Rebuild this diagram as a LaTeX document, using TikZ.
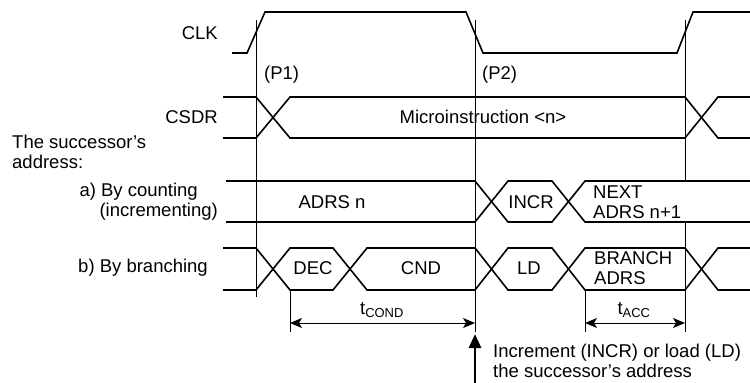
\documentclass[tikz,border=0pt]{standalone}
\usepackage{fontspec}
\setmainfont{Liberation Sans}
\usetikzlibrary{arrows.meta}
\begin{document}
\begin{tikzpicture}[x=1pt,y=-1pt,
  sig/.style={line width=1.6pt, line join=miter},
  mark line/.style={line width=0.9pt},
  lbl/.style={inner sep=0pt, font=\fontsize{18.5}{20.5}\selectfont},
  dim/.style={line width=1pt, {Stealth[length=12pt,width=10pt,inset=3pt]}-{Stealth[length=12pt,width=10pt,inset=3pt]}},
  bigarrow/.style={line width=2.8pt, -{Triangle[length=14pt,width=12pt]}}]
\path[use as bounding box] (0,0) rectangle (750,383);
\fill[white] (0,0) rectangle (750,383);
% vertical reference lines
\draw[mark line] (256,20) -- (256,297);
\draw[mark line] (475,20) -- (475,332);
\draw[mark line] (685,20) -- (685,181);
\draw[mark line] (685,222) -- (685,332);
\draw[mark line] (290,290) -- (290,332);
\draw[mark line] (585,290) -- (585,332);
% CLK
\draw[sig] (232,53) -- (247,53) -- (265,12) -- (466,12) -- (483,53) -- (677,53) -- (693,12) -- (750,12);
% CSDR
\draw[sig] (223,97) -- (256,97) -- (290,138) -- (685,138) -- (718,97) -- (750,97);
\draw[sig] (223,138) -- (256,138) -- (290,97) -- (685,97) -- (718,138) -- (750,138);
% row a
\draw[sig] (226,181) -- (475,181) -- (508,222) -- (552,222) -- (585,181) -- (750,181);
\draw[sig] (226,222) -- (475,222) -- (508,181) -- (552,181) -- (585,222) -- (750,222);
% row b
\draw[sig] (223,248) -- (256,248) -- (290,290) -- (333,290) -- (367,248) -- (475,248) -- (508,290) -- (552,290) -- (585,248) -- (685,248) -- (718,290) -- (750,290);
\draw[sig] (223,290) -- (256,290) -- (290,248) -- (333,248) -- (367,290) -- (475,290) -- (508,248) -- (552,248) -- (585,290) -- (685,290) -- (718,248) -- (750,248);
% labels
\node[lbl, anchor=east] (clk) at (218,33) {CLK};
\node[lbl, anchor=west] (p1) at (264,75) {(P1)};
\node[lbl, anchor=west] (p2) at (482,75) {(P2)};
\node[lbl, anchor=east] (csdr) at (218,117) {CSDR};
\node[lbl] (micro) at (483,117) {Microinstruction <n>};
\node[lbl, anchor=west, align=left] (succ) at (12,152) {The successor’s\\address:};
\node[lbl, anchor=east] (aby) at (198,192) {a) By counting};
\node[lbl, anchor=east] (ainc) at (218,212) {(incrementing)};
\node[lbl, anchor=east] (bby) at (208,268) {b) By branching};
\node[lbl] (adrsn) at (332,202) {ADRS n};
\node[lbl] (incr) at (531,202) {INCR};
\node[lbl, anchor=west, align=left] (next) at (593,202) {NEXT\\ADRS n+1};
\node[lbl] (dec) at (313,268) {DEC};
\node[lbl] (cnd) at (421,268) {CND};
\node[lbl] (ld) at (529,268) {LD};
\node[lbl, anchor=west, align=left] (branch) at (594,268) {BRANCH\\ADRS};
\node[lbl] (tcond) at (382,310) {t\textsubscript{COND}};
\node[lbl] (tacc) at (634,310) {t\textsubscript{ACC}};
\node[lbl, anchor=west, align=left] (incnote) at (493,361) {Increment (INCR) or load (LD)\\the successor’s address};
% dimensions
\coordinate (cl) at (290,323);
\coordinate (cr) at (475,323);
\coordinate (al) at (585,323);
\coordinate (ar) at (685,323);
\draw[dim] (cl) -- (cr);
\draw[dim] (al) -- (ar);
% big arrow
\coordinate (ab) at (475,383);
\coordinate (at) at (475,334);
\draw[bigarrow] (ab) -- (at);
\end{tikzpicture}
\end{document}
